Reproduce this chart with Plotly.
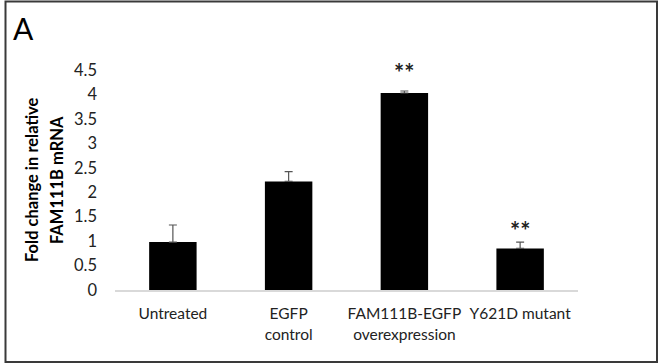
import plotly.graph_objects as go

categories = ["Untreated", "EGFP<br>control", "FAM111B-EGFP<br>overexpression", "Y621D mutant"]
values = [0.98, 2.22, 4.03, 0.85]
errors = [0.35, 0.20, 0.04, 0.13]
sig_labels = ["", "", "**", "**"]
y_ticks = [0, 0.5, 1, 1.5, 2, 2.5, 3, 3.5, 4, 4.5]
y_tick_text = ["0", "0.5", "1", "1.5", "2", "2.5", "3", "3.5", "4", "4.5"]

FONT = "Lato, 'Open Sans', sans-serif"
L, R, T, B = 115, 81, 70, 74
W, H = 659, 364
pw, ph = W - L - R, H - T - B

def px_x(p):
    return (p - L) / pw

def px_y(p):
    return (H - B - p) / ph

fig = go.Figure()
fig.add_trace(go.Bar(
    x=categories, y=values,
    marker=dict(color="black", line=dict(width=0)),
    width=0.41,
    error_y=dict(type="data", array=errors, symmetric=False, arrayminus=[0]*4,
                 color="#555555", thickness=1.2, width=4),
))

sig_shift = [0, 0, 2, -5]
for c, v, e, s, sh in zip(categories, values, errors, sig_labels, sig_shift):
    if s:
        fig.add_annotation(x=c, y=v + e, yref="y", text="<b>" + s + "</b>", showarrow=False,
                           yanchor="bottom", yshift=sh,
                           font=dict(family=FONT, size=24, color="#222"))

fig.add_annotation(xref="paper", yref="paper", x=px_x(32), y=0.5,
                   text="<b>Fold change in relative</b>",
                   textangle=-90, showarrow=False, xanchor="center", yanchor="middle",
                   font=dict(family=FONT, size=16.5, color="black"))
fig.add_annotation(xref="paper", yref="paper", x=px_x(57), y=0.5,
                   text="<b>FAM111B mRNA</b>",
                   textangle=-90, showarrow=False, xanchor="center", yanchor="middle",
                   font=dict(family=FONT, size=16.5, color="black"))
fig.add_annotation(xref="paper", yref="paper", x=px_x(11), y=px_y(28),
                   text="A", showarrow=False, xanchor="left", yanchor="middle",
                   font=dict(family=FONT, size=30, color="black"))

fig.add_shape(type="rect", xref="paper", yref="paper",
              x0=px_x(5.5), x1=px_x(657), y0=px_y(362), y1=px_y(1.5),
              line=dict(color="#3a3a3a", width=2), fillcolor="rgba(0,0,0,0)", layer="below")

fig.update_layout(
    width=W, height=H,
    margin=dict(l=L, r=R, t=T, b=B, autoexpand=False),
    paper_bgcolor="white", plot_bgcolor="white",
    showlegend=False,
    bargap=0.59,
    font=dict(family=FONT, size=16, color="#222"),
)
fig.update_xaxes(showline=True, linecolor="#d9d9d9", linewidth=1.5, ticks="",
                 showgrid=False, tickfont=dict(size=15.5), ticklabelstandoff=9,
                 tickangle=0, automargin=False)
fig.update_yaxes(range=[0, 4.5], tickvals=y_ticks, ticktext=y_tick_text,
                 showgrid=False, zeroline=False, showline=False, ticks="",
                 tickfont=dict(size=16.5), ticklabelstandoff=17, automargin=False)

fig.write_html("out.html", config={"displayModeBar": False},
               post_script="document.body.style.margin='0';document.body.style.overflow='hidden';")
